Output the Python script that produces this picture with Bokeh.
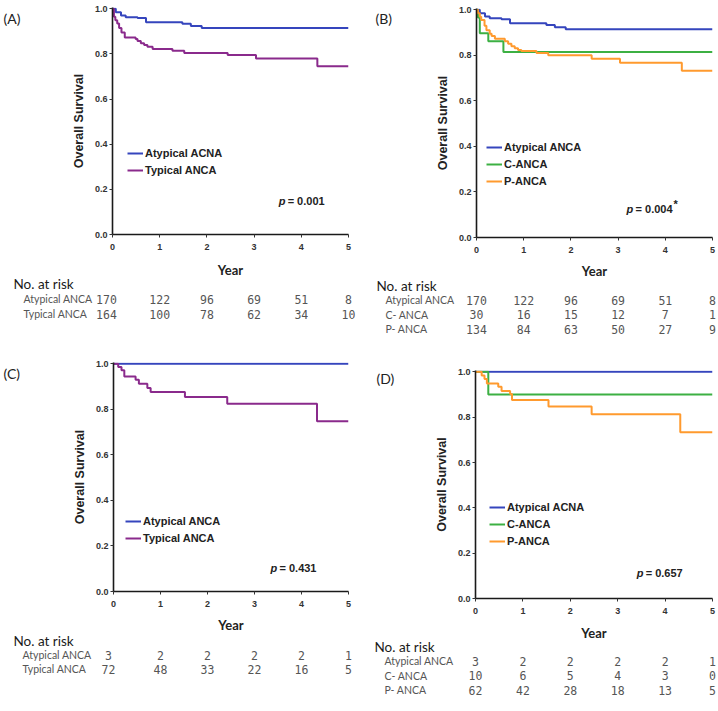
from bokeh.plotting import figure
from bokeh.models import (Range1d, FactorRange, Legend, LegendItem, Label,
                          ColumnDataSource, FixedTicker, NumeralTickFormatter)
from bokeh.layouts import row, column
from bokeh.embed import file_html
from bokeh.resources import INLINE
from bokeh.core.properties import value

# ---------------- data ----------------
years = [0, 1, 2, 3, 4, 5]
surv_ticks = [0.0, 0.2, 0.4, 0.6, 0.8, 1.0]

# Panel A (all patients: atypical vs typical)
a_atyp_t = [0, 0.07, 0.18, 0.28, 0.53, 0.71, 1.48, 1.66, 1.89]
a_atyp_s = [1.0, 0.985, 0.971, 0.963, 0.959, 0.941, 0.934, 0.924, 0.915]
a_typ_t = [0, 0.03, 0.06, 0.10, 0.14, 0.19, 0.26, 0.49, 0.53, 0.60, 0.67, 0.74, 0.85, 1.27, 1.52, 2.44, 3.04, 4.34]
a_typ_s = [1.0, 0.965, 0.950, 0.935, 0.915, 0.895, 0.873, 0.866, 0.857, 0.848, 0.840, 0.832, 0.822, 0.814, 0.804, 0.795, 0.780, 0.746]

# Panel B (atypical vs C-ANCA vs P-ANCA)
b_atyp_t = a_atyp_t
b_atyp_s = a_atyp_s
b_c_t = [0, 0.03, 0.07, 0.25, 0.57]
b_c_s = [1.0, 0.967, 0.897, 0.862, 0.815]
b_p_t = [0, 0.03, 0.07, 0.10, 0.17, 0.21, 0.28, 0.32, 0.39, 0.60, 0.67, 0.74, 0.81, 0.88, 0.95, 1.27, 1.52, 2.44, 3.04, 4.35]
b_p_s = [1.0, 0.985, 0.970, 0.955, 0.930, 0.910, 0.895, 0.885, 0.873, 0.862, 0.851, 0.840, 0.831, 0.824, 0.819, 0.811, 0.801, 0.785, 0.768, 0.733]

# Panel C (subgroup: atypical vs typical)
c_atyp_t = [0]
c_atyp_s = [1.0]
c_typ_t = [0, 0.10, 0.17, 0.23, 0.47, 0.54, 0.72, 0.79, 1.52, 2.42, 4.33]
c_typ_s = [1.0, 0.986, 0.972, 0.944, 0.930, 0.913, 0.894, 0.876, 0.854, 0.825, 0.748]

# Panel D (subgroup: atypical vs C-ANCA vs P-ANCA)
d_atyp_t = [0]
d_atyp_s = [1.0]
d_c_t = [0, 0.27]
d_c_s = [1.0, 0.90]
d_p_t = [0, 0.13, 0.19, 0.24, 0.48, 0.55, 0.73, 0.77, 1.54, 2.45, 4.32]
d_p_s = [1.0, 0.984, 0.968, 0.949, 0.934, 0.915, 0.902, 0.876, 0.847, 0.813, 0.733]

# Numbers at risk
a_risk_groups = ["Atypical ANCA", "Typical ANCA"]
a_risk = [[170, 122, 96, 69, 51, 8], [164, 100, 78, 62, 34, 10]]
b_risk_groups = ["Atypical ANCA", "C- ANCA", "P- ANCA"]
b_risk = [[170, 122, 96, 69, 51, 8], [30, 16, 15, 12, 7, 1], [134, 84, 63, 50, 27, 9]]
c_risk_groups = ["Atypical ANCA", "Typical ANCA"]
c_risk = [[3, 2, 2, 2, 2, 1], [72, 48, 33, 22, 16, 5]]
d_risk_groups = ["Atypical ANCA", "C- ANCA", "P- ANCA"]
d_risk = [[3, 2, 2, 2, 2, 1], [10, 6, 5, 4, 3, 0], [62, 42, 28, 18, 13, 5]]

a_legend = ["Atypical ACNA", "Typical ANCA"]
b_legend = ["Atypical ANCA", "C-ANCA", "P-ANCA"]
c_legend = ["Atypical ANCA", "Typical ANCA"]
d_legend = ["Atypical ACNA", "C-ANCA", "P-ANCA"]

p_values = ["0.001", "0.004", "0.431", "0.657"]

BLUE = "#3545bd"
PURPLE = "#8a2a8c"
GREEN = "#3cb043"
ORANGE = "#ff9a2e"

AX_FONT = "Liberation Sans"
TXT_FONT = "Lato"
NUM_FONT = "DejaVu Sans Mono"


def km_panel(letter, curves, legend_labels, pval, star, risk_groups, risk,
             W, bl, br, bt, km_h, bb, tab_h, tab_frame_h, letter_x, letter_dy, year_dy,
             leg_xy, pv_xy, hdr_x, row_x, col0_off):
    p = figure(width=W, height=km_h, x_range=Range1d(0, 5), y_range=Range1d(0, 1.006),
               output_backend="svg", toolbar_location=None,
               min_border=0, min_border_left=bl, min_border_right=br,
               min_border_top=bt, min_border_bottom=bb)
    p.outline_line_color = None
    p.grid.visible = False
    p.background_fill_color = "white"
    p.border_fill_color = "white"

    renderers = []
    for (t, s, col) in curves:
        xs = list(t) + [years[-1]]
        ys = list(s) + [s[-1]]
        r = p.step(x=xs, y=ys, mode="after", line_color=col, line_width=2)
        renderers.append(r)

    for ax in (p.xaxis, p.yaxis):
        ax.axis_line_color = "#1a1a1a"
        ax.axis_line_width = 1.6
        ax.major_tick_line_color = "#333333"
        ax.major_tick_line_width = 1
        ax.major_tick_in = 0
        ax.major_tick_out = 3
        ax.minor_tick_line_color = None
        ax.major_label_text_font = AX_FONT
        ax.major_label_text_font_style = "bold"
        ax.major_label_text_font_size = "9px"
        ax.major_label_text_color = "#333333"
    p.xaxis.ticker = FixedTicker(ticks=years)
    p.yaxis.ticker = FixedTicker(ticks=surv_ticks)
    p.yaxis.formatter = NumeralTickFormatter(format="0.0")
    p.xaxis.major_label_standoff = 6
    p.yaxis.major_label_standoff = 2

    p.yaxis.axis_label = "Overall Survival"
    p.yaxis.axis_label_text_font = AX_FONT
    p.yaxis.axis_label_text_font_style = "bold"
    p.yaxis.axis_label_text_font_size = "12.5px"
    p.yaxis.axis_label_text_color = "#222222"
    p.yaxis.axis_label_standoff = 6

    # x-axis title, placed below the tick labels
    yr = p.text(x=[(years[0] + years[-1]) / 2], y=[surv_ticks[0]], text=["Year"], y_offset=year_dy,
                text_font=value(TXT_FONT), text_font_style="bold", text_font_size="13px",
                text_color="#222222", text_baseline="middle", text_align="center")
    yr.level = "annotation"

    items = [LegendItem(label=lab, renderers=[r]) for lab, r in zip(legend_labels, renderers)]
    leg = Legend(items=items, location=leg_xy, background_fill_alpha=0,
                 border_line_color=None, padding=0, margin=0, spacing=3,
                 label_height=14, glyph_height=14, glyph_width=16, label_standoff=2,
                 label_text_font=AX_FONT, label_text_font_style="bold",
                 label_text_font_size="11px", label_text_color="#222222")
    p.add_layout(leg)

    # panel letter (drawn at annotation level so it can sit in the border)
    lr = p.text(x=[years[0]], y=[surv_ticks[-1]], text=["(" + letter + ")"],
                x_offset=letter_x - bl, y_offset=letter_dy,
                text_font=value(TXT_FONT), text_font_size="14px", text_color="#222222",
                text_baseline="top", text_align="left")
    lr.level = "annotation"

    # p-value
    px, py = pv_xy
    p.add_layout(Label(x=px, y=py, text="p", text_font=AX_FONT, text_font_style="bold italic",
                       text_font_size="11px", text_color="#222222", text_baseline="middle"))
    p.add_layout(Label(x=px, y=py, x_offset=9, text="= " + pval, text_font=AX_FONT,
                       text_font_style="bold", text_font_size="11px", text_color="#222222",
                       text_baseline="middle"))
    if star:
        p.add_layout(Label(x=px, y=py, x_offset=47, y_offset=5, text="*", text_font=AX_FONT,
                           text_font_style="bold", text_font_size="11px", text_color="#222222",
                           text_baseline="middle"))

    # ---- risk table ----
    hdr = "No. at risk"
    factors = list(reversed([hdr] + risk_groups))
    t = figure(width=W, height=tab_h, x_range=Range1d(0, 5),
               y_range=FactorRange(factors=factors, range_padding=0),
               output_backend="svg", toolbar_location=None,
               min_border=0, min_border_left=bl, min_border_right=br,
               min_border_top=0, min_border_bottom=tab_h - tab_frame_h,
               x_axis_location=None, y_axis_location=None)
    t.outline_line_color = None
    t.grid.visible = False
    t.background_fill_color = "white"
    t.border_fill_color = "white"
    r1 = t.text(x=[years[0]], y=[hdr], text=[hdr], x_offset=hdr_x - bl, text_font=value(TXT_FONT),
                text_font_size="13.5px", text_color="#1a1a1a", text_baseline="middle", text_align="left")
    r2 = t.text(x=[years[0]] * len(risk_groups), y=risk_groups, text=risk_groups, x_offset=row_x - bl,
                text_font=value(TXT_FONT), text_font_size="10.5px", text_color="#555555",
                text_baseline="middle", text_align="left")
    xs, ys, txt, offs = [], [], [], []
    for g, vals in zip(risk_groups, risk):
        for yv, v in zip(years, vals):
            xs.append(yv)
            ys.append(g)
            txt.append(str(v))
            offs.append(col0_off if yv == years[0] else 0)
    src = ColumnDataSource(dict(x=xs, y=ys, text=txt, off=offs))
    r3 = t.text(x="x", y="y", text="text", x_offset="off", source=src, text_font=value(NUM_FONT),
                text_font_size="11.5px", text_color="#555555", text_baseline="middle", text_align="center")
    for r in (r1, r2, r3):
        r.level = "annotation"
    return column(p, t, spacing=0)


pa = km_panel("A", [(a_atyp_t, a_atyp_s, BLUE), (a_typ_t, a_typ_s, PURPLE)], a_legend,
              p_values[0], False, a_risk_groups, a_risk,
              W=359, bl=112, br=11, bt=7, km_h=276, bb=42, tab_h=69, tab_frame_h=45,
              letter_x=3, letter_dy=1, year_dy=35, leg_xy=(15, 57), pv_xy=(3.52, 0.15),
              hdr_x=13, row_x=23, col0_off=-6)
pb = km_panel("B", [(b_atyp_t, b_atyp_s, BLUE), (b_c_t, b_c_s, GREEN), (b_p_t, b_p_s, ORANGE)], b_legend,
              p_values[1], True, b_risk_groups, b_risk,
              W=357, bl=117, br=4, bt=8, km_h=278, bb=41, tab_h=67, tab_frame_h=58,
              letter_x=16, letter_dy=0, year_dy=33, leg_xy=(10, 49), pv_xy=(3.18, 0.127),
              hdr_x=17, row_x=26, col0_off=0)
pc = km_panel("C", [(c_atyp_t, c_atyp_s, BLUE), (c_typ_t, c_typ_s, PURPLE)], c_legend,
              p_values[2], False, c_risk_groups, c_risk,
              W=359, bl=113, br=11, bt=17, km_h=288, bb=42, tab_h=76, tab_frame_h=43,
              letter_x=3, letter_dy=1, year_dy=33, leg_xy=(12, 46), pv_xy=(3.34, 0.105),
              hdr_x=13, row_x=22, col0_off=-5)
pd_ = km_panel("D", [(d_atyp_t, d_atyp_s, BLUE), (d_c_t, d_c_s, GREEN), (d_p_t, d_p_s, ORANGE)], d_legend,
               p_values[3], False, d_risk_groups, d_risk,
               W=357, bl=116, br=4, bt=25, km_h=294, bb=41, tab_h=70, tab_frame_h=58,
               letter_x=17, letter_dy=-2, year_dy=34, leg_xy=(14, 50), pv_xy=(3.40, 0.114),
               hdr_x=15, row_x=25, col0_off=0)

layout = column(row(pa, pb, spacing=0), row(pc, pd_, spacing=0), spacing=0)

open("out.html", "w").write(file_html(layout, INLINE))
